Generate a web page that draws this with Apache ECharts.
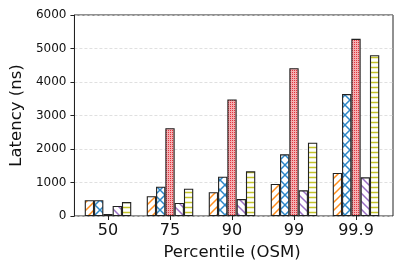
<!DOCTYPE html>
<html>
<head>
<meta charset="utf-8">
<script src="https://cdn.jsdelivr.net/npm/echarts@6/dist/echarts.min.js"></script>
<style>html,body{margin:0;padding:0;background:#fff}#c{width:404px;height:269px}</style>
</head>
<body>
<div id="c"></div>
<script>
const categories = ['50', '75', '90', '99', '99.9'];
const seriesNames = ['A', 'B', 'C', 'D', 'E'];
const orangeVals = [470, 590, 710, 955, 1285];
const blueVals = [470, 875, 1175, 1840, 3640];
const redVals = [60, 2620, 3480, 4410, 5290];
const purpleVals = [300, 390, 505, 765, 1155];
const yellowVals = [415, 815, 1335, 2190, 4800];
const yMin = 0, yMax = 6000, yStep = 1000;

function hatch(kind, color, size) {
  const c = document.createElement('canvas');
  c.width = size; c.height = size;
  const g = c.getContext('2d');
  g.fillStyle = '#fff';
  g.fillRect(0, 0, size, size);
  g.strokeStyle = color;
  g.lineWidth = 1.5;
  const s = size;
  function line(x1, y1, x2, y2) { g.beginPath(); g.moveTo(x1, y1); g.lineTo(x2, y2); g.stroke(); }
  if (kind === '/' || kind === 'x') {
    line(-1, s + 1, s + 1, -1); line(-1 - s, s + 1, 1, -1); line(s - 1, s + 1, 2 * s + 1, -1);
  }
  if (kind === '\\' || kind === 'x') {
    line(-1, -1, s + 1, s + 1); line(-1 - s, -1, 1, s + 1); line(s - 1, -1, 2 * s + 1, s + 1);
  }
  if (kind === '-') {
    line(0, s / 2, s, s / 2);
  }
  if (kind === '.') {
    g.fillStyle = '#f5aeb1';
    g.fillRect(0, 0, s, s);
    g.fillStyle = color;
    g.fillRect(0, 0, 1, 1);
  }
  return { image: c, repeat: 'repeat' };
}

const styles = [
  hatch('/', '#ff8c1a', 8),
  hatch('x', '#2b86c8', 10),
  hatch('.', '#e0363e', 2),
  hatch('\\', '#9a6fc4', 8),
  hatch('-', '#c4c42a', 5)
];
const allVals = [orangeVals, blueVals, redVals, purpleVals, yellowVals];

const chart = echarts.init(document.getElementById('c'), null, { renderer: 'canvas' });
const font = 'DejaVu Sans';
chart.setOption({
  animation: false,
  backgroundColor: '#fff',
  grid: [
    { left: 69, right: 11, top: 15, bottom: 53, show: true, borderColor: '#222', borderWidth: 1, backgroundColor: 'transparent' },
    { left: 77, right: 17, top: 15, bottom: 53 }
  ],
  xAxis: [
    { gridIndex: 0, type: 'value', show: false, min: 0, max: 1 },
    {
      gridIndex: 1, type: 'category', data: categories,
      axisLine: { show: false },
      axisTick: { show: true, alignWithLabel: true, length: 4, lineStyle: { color: '#222' } },
      axisLabel: { color: '#111', fontFamily: font, fontSize: 16, margin: 7 },
      name: 'Percentile (OSM)', nameLocation: 'middle', nameGap: 25,
      nameTextStyle: { color: '#111', fontFamily: font, fontSize: 16.5 }
    }
  ],
  yAxis: [
    {
      gridIndex: 0, type: 'value', min: yMin, max: yMax, interval: yStep,
      axisLine: { show: true, lineStyle: { color: '#222' } },
      axisTick: { show: true, length: 4, lineStyle: { color: '#222' } },
      axisLabel: { color: '#111', fontFamily: font, fontSize: 12, margin: 8, formatter: v => String(v) },
      splitLine: { show: true, lineStyle: { color: '#d8d8d8', type: [3, 2], width: 0.8 } },
      name: 'Latency (ns)', nameLocation: 'middle', nameGap: 43,
      nameTextStyle: { color: '#111', fontFamily: font, fontSize: 16.5 }
    },
    { gridIndex: 1, type: 'value', min: yMin, max: yMax, interval: yStep, show: false, splitLine: { show: false } }
  ],
  series: allVals.map((vals, i) => ({
    name: seriesNames[i],
    type: 'bar',
    xAxisIndex: 1, yAxisIndex: 1,
    data: vals,
    barGap: '0%',
    barCategoryGap: '25%',
    itemStyle: { color: styles[i], borderColor: '#222', borderWidth: 1.1 }
  }))
});
</script>
</body>
</html>
